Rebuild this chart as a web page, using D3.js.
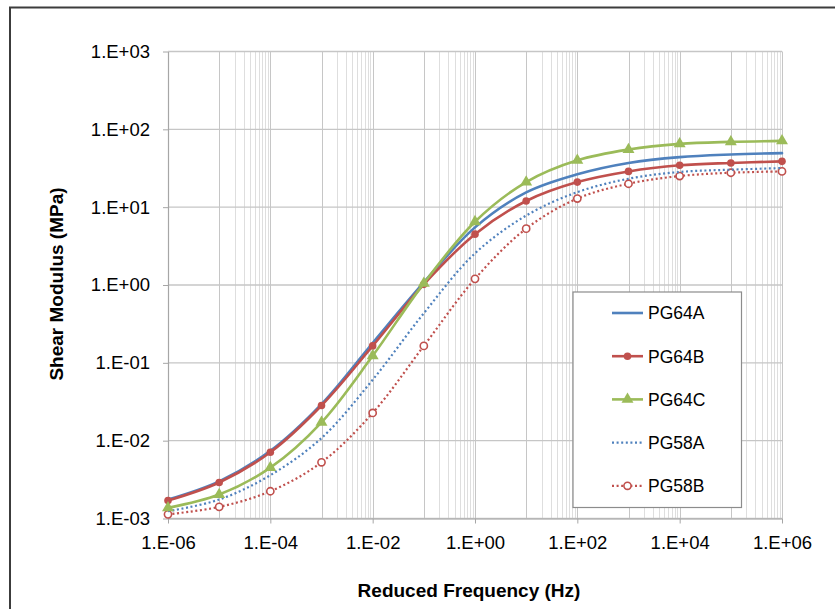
<!DOCTYPE html>
<html><head><meta charset="utf-8">
<script src="https://cdn.jsdelivr.net/npm/d3@7"></script>
<style>
html,body{margin:0;padding:0;background:#fff;}
svg text{font-family:"Liberation Sans",Arial,sans-serif;fill:#000;}
</style></head>
<body><svg id="c" width="835" height="609"></svg>
<script>
const frequencies = [1e-6,1e-5,1e-4,1e-3,1e-2,1e-1,1e0,1e1,1e2,1e3,1e4,1e5,1e6];
const PG64A = [0.00175,0.0030,0.0074,0.0295,0.18,1.08,5.5,15.5,26.5,37,44,47.5,49.5];
const PG64B = [0.0017,0.0029,0.0071,0.0283,0.165,1.02,4.5,12.0,21,28.8,34.5,37,38.8];
const PG64C = [0.00137,0.00203,0.0045,0.0172,0.123,1.05,6.5,21,40,55,65,69,71];
const PG58A = [0.00124,0.00175,0.0036,0.0108,0.0605,0.434,2.55,7.8,15.6,23.2,28.3,30.3,31.8];
const PG58B = [0.00113,0.00141,0.00224,0.00527,0.0227,0.165,1.2,5.3,12.9,20.0,25.1,27.7,28.8];
const seriesNames = ["PG64A","PG64B","PG64C","PG58A","PG58B"];
const xTickValues = [1e-6,1e-4,1e-2,1e0,1e2,1e4,1e6];
const xTickLabels = ["1.E-06","1.E-04","1.E-02","1.E+00","1.E+02","1.E+04","1.E+06"];
const yTickValues = [1e-3,1e-2,1e-1,1e0,1e1,1e2,1e3];
const yTickLabels = ["1.E-03","1.E-02","1.E-01","1.E+00","1.E+01","1.E+02","1.E+03"];
const xTitle = "Reduced Frequency (Hz)";
const yTitle = "Shear Modulus (MPa)";

const seriesValues = [PG64A,PG64B,PG64C,PG58A,PG58B];
const styles = [
  {color:"#4F81BD", dash:null, width:2.6, marker:null},
  {color:"#C0504D", dash:null, width:2.6, marker:"dot"},
  {color:"#9BBB59", dash:null, width:2.6, marker:"tri"},
  {color:"#4F81BD", dash:"2,2.6", width:2.2, marker:null},
  {color:"#C0504D", dash:"2,2.6", width:2.2, marker:"ring"}
];

const svg = d3.select("#c");
const L=168, R=782, T=51.5, B=518.5;
const x = d3.scaleLog().domain([1e-6,1e6]).range([L,R]);
const y = d3.scaleLog().domain([1e-3,1e3]).range([B,T]);

// outer chart border
svg.append("rect").attr("x",10).attr("y",7.5).attr("width",840).attr("height",620)
  .attr("fill","none").attr("stroke","#3c3c3c").attr("stroke-width",2);

// grid
const g = svg.append("g");
const minorX = [];
[-5,-3,-1,1,3,5].forEach(k=>{ for(let m=2;m<=9;m++) minorX.push(m*Math.pow(10,k)); });
const majorX = d3.range(-6,7).map(k=>Math.pow(10,k));
g.selectAll(".mx").data(minorX).join("line")
  .attr("x1",d=>Math.round(x(d))+0.5).attr("x2",d=>Math.round(x(d))+0.5).attr("y1",T).attr("y2",B)
  .attr("stroke","#dedede").attr("stroke-width",1);
g.selectAll(".Mx").data(majorX).join("line")
  .attr("x1",d=>Math.round(x(d))+0.5).attr("x2",d=>Math.round(x(d))+0.5).attr("y1",T).attr("y2",B)
  .attr("stroke","#c6c6c6").attr("stroke-width",1);
g.selectAll(".My").data(yTickValues).join("line")
  .attr("x1",L).attr("x2",R).attr("y1",d=>y(d)).attr("y2",d=>y(d))
  .attr("stroke","#c6c6c6").attr("stroke-width",1.3);

// axes
const xAxis = d3.axisBottom(x).tickValues(xTickValues).tickFormat((d,i)=>xTickLabels[i]).tickSizeInner(5).tickSizeOuter(0).tickPadding(12);
const yAxis = d3.axisLeft(y).tickValues(yTickValues).tickFormat((d,i)=>yTickLabels[i]).tickSizeInner(5).tickSizeOuter(0).tickPadding(13);
const xa = svg.append("g").attr("transform",`translate(0,${B})`).call(xAxis);
const ya = svg.append("g").attr("transform",`translate(${L},0)`).call(yAxis);
[xa,ya].forEach(a=>{
  a.select(".domain").attr("stroke","#a6a6a6").attr("stroke-width",1.2);
  a.selectAll(".tick line").attr("stroke","#a6a6a6");
  a.selectAll("text").style("font-size","18.5px").attr("fill","#000");
});

// titles
svg.append("text").attr("x",469).attr("y",597).attr("text-anchor","middle")
  .style("font-size","19px").style("font-weight","bold").text(xTitle);
svg.append("text").attr("transform","translate(63,284) rotate(-90)").attr("text-anchor","middle")
  .style("font-size","19px").style("font-weight","bold").text(yTitle);

// lines
const line = d3.line().x(d=>x(d[0])).y(d=>y(d[1])).curve(d3.curveCatmullRom.alpha(0.5));
const tri = d3.symbol().type(d3.symbolTriangle).size(62);
function drawMarker(sel, type, color, cx, cy){
  if(type==="dot") sel.append("circle").attr("cx",cx).attr("cy",cy).attr("r",3.8).attr("fill",color);
  else if(type==="ring") sel.append("circle").attr("cx",cx).attr("cy",cy).attr("r",3.6).attr("fill","#fff").attr("stroke",color).attr("stroke-width",1.6);
  else if(type==="tri") sel.append("path").attr("d",tri()).attr("transform",`translate(${cx},${cy})`).attr("fill",color);
}
const order = [4,3,0,1,2];
order.forEach(i=>{
  const st = styles[i];
  const pts = frequencies.map((f,j)=>[f,seriesValues[i][j]]);
  const p = svg.append("path").datum(pts).attr("d",line).attr("fill","none")
    .attr("stroke",st.color).attr("stroke-width",st.width).attr("stroke-linecap",st.dash?"butt":"round");
  if(st.dash) p.attr("stroke-dasharray",st.dash);
  if(st.marker){
    const mg = svg.append("g");
    pts.forEach(d=>drawMarker(mg, st.marker, st.color, x(d[0]), y(d[1])));
  }
});

// legend
const lg = svg.append("g");
lg.append("rect").attr("x",573).attr("y",292).attr("width",168.5).attr("height",215.5)
  .attr("fill","#fff").attr("stroke","#8c8c8c").attr("stroke-width",1.2);
seriesNames.forEach((name,i)=>{
  const st = styles[i];
  const cy = 313 + i*43.2;
  const ln = lg.append("line").attr("x1",612).attr("x2",643).attr("y1",cy).attr("y2",cy)
    .attr("stroke",st.color).attr("stroke-width",st.width);
  if(st.dash) ln.attr("stroke-dasharray",st.dash);
  if(st.marker) drawMarker(lg, st.marker, st.color, 627.5, cy);
  lg.append("text").attr("x",648).attr("y",cy).attr("dy","0.36em").style("font-size","17.5px").text(name);
});
</script></body></html>
